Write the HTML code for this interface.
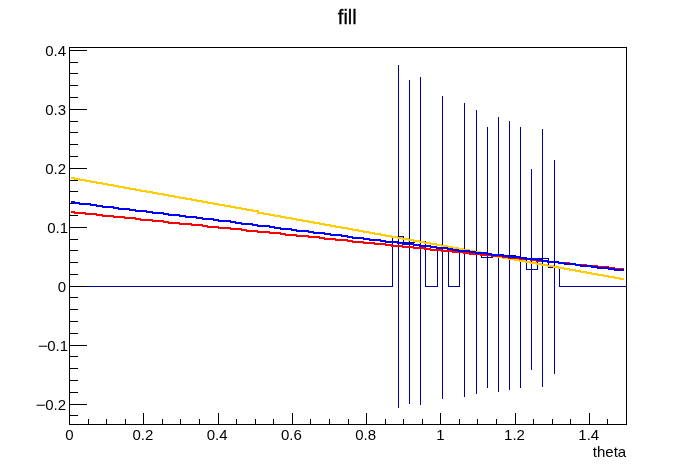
<!DOCTYPE html>
<html><head><meta charset="utf-8"><title>fill</title>
<style>
html,body{margin:0;padding:0;background:#fff;}
svg{display:block;}
text{font-family:"Liberation Sans",sans-serif;font-size:15px;fill:#000;}
</style></head><body>
<svg width="696" height="472" viewBox="0 0 696 472">
<rect x="0" y="0" width="696" height="472" fill="#fff"/>
<g shape-rendering="crispEdges">
<rect x="69" y="286" width="12" height="1" fill="#000099"/>
<rect x="80" y="286" width="12" height="1" fill="#000099"/>
<rect x="91" y="286" width="13" height="1" fill="#000099"/>
<rect x="103" y="286" width="12" height="1" fill="#000099"/>
<rect x="114" y="286" width="12" height="1" fill="#000099"/>
<rect x="125" y="286" width="12" height="1" fill="#000099"/>
<rect x="136" y="286" width="12" height="1" fill="#000099"/>
<rect x="147" y="286" width="12" height="1" fill="#000099"/>
<rect x="158" y="286" width="12" height="1" fill="#000099"/>
<rect x="169" y="286" width="12" height="1" fill="#000099"/>
<rect x="180" y="286" width="13" height="1" fill="#000099"/>
<rect x="192" y="286" width="12" height="1" fill="#000099"/>
<rect x="203" y="286" width="12" height="1" fill="#000099"/>
<rect x="214" y="286" width="12" height="1" fill="#000099"/>
<rect x="225" y="286" width="12" height="1" fill="#000099"/>
<rect x="236" y="286" width="12" height="1" fill="#000099"/>
<rect x="247" y="286" width="12" height="1" fill="#000099"/>
<rect x="258" y="286" width="13" height="1" fill="#000099"/>
<rect x="270" y="286" width="12" height="1" fill="#000099"/>
<rect x="281" y="286" width="12" height="1" fill="#000099"/>
<rect x="292" y="286" width="12" height="1" fill="#000099"/>
<rect x="303" y="286" width="12" height="1" fill="#000099"/>
<rect x="314" y="286" width="12" height="1" fill="#000099"/>
<rect x="325" y="286" width="12" height="1" fill="#000099"/>
<rect x="336" y="286" width="13" height="1" fill="#000099"/>
<rect x="348" y="286" width="12" height="1" fill="#000099"/>
<rect x="359" y="286" width="12" height="1" fill="#000099"/>
<rect x="370" y="286" width="12" height="1" fill="#000099"/>
<rect x="381" y="286" width="12" height="1" fill="#000099"/>
<rect x="392" y="236" width="1" height="51" fill="#000099"/>
<rect x="392" y="236" width="12" height="1" fill="#000099"/>
<rect x="403" y="236" width="1" height="7" fill="#000099"/>
<rect x="403" y="242" width="12" height="1" fill="#000099"/>
<rect x="414" y="241" width="1" height="2" fill="#000099"/>
<rect x="414" y="241" width="12" height="1" fill="#000099"/>
<rect x="425" y="241" width="1" height="46" fill="#000099"/>
<rect x="425" y="286" width="13" height="1" fill="#000099"/>
<rect x="437" y="247" width="1" height="40" fill="#000099"/>
<rect x="437" y="247" width="12" height="1" fill="#000099"/>
<rect x="448" y="247" width="1" height="40" fill="#000099"/>
<rect x="448" y="286" width="12" height="1" fill="#000099"/>
<rect x="459" y="250" width="1" height="37" fill="#000099"/>
<rect x="459" y="250" width="12" height="1" fill="#000099"/>
<rect x="470" y="250" width="1" height="3" fill="#000099"/>
<rect x="470" y="252" width="12" height="1" fill="#000099"/>
<rect x="481" y="252" width="1" height="6" fill="#000099"/>
<rect x="481" y="257" width="12" height="1" fill="#000099"/>
<rect x="492" y="254" width="1" height="4" fill="#000099"/>
<rect x="492" y="254" width="12" height="1" fill="#000099"/>
<rect x="503" y="254" width="1" height="2" fill="#000099"/>
<rect x="503" y="255" width="13" height="1" fill="#000099"/>
<rect x="515" y="255" width="1" height="3" fill="#000099"/>
<rect x="515" y="257" width="12" height="1" fill="#000099"/>
<rect x="526" y="257" width="1" height="13" fill="#000099"/>
<rect x="526" y="269" width="12" height="1" fill="#000099"/>
<rect x="537" y="258" width="1" height="12" fill="#000099"/>
<rect x="537" y="258" width="12" height="1" fill="#000099"/>
<rect x="548" y="258" width="1" height="10" fill="#000099"/>
<rect x="548" y="267" width="12" height="1" fill="#000099"/>
<rect x="559" y="267" width="1" height="20" fill="#000099"/>
<rect x="559" y="286" width="12" height="1" fill="#000099"/>
<rect x="570" y="286" width="12" height="1" fill="#000099"/>
<rect x="581" y="286" width="12" height="1" fill="#000099"/>
<rect x="592" y="286" width="13" height="1" fill="#000099"/>
<rect x="604" y="286" width="12" height="1" fill="#000099"/>
<rect x="615" y="286" width="12" height="1" fill="#000099"/>
<rect x="398" y="65" width="1" height="343" fill="#000099"/>
<rect x="409" y="80" width="1" height="324" fill="#000099"/>
<rect x="420" y="77" width="1" height="328" fill="#000099"/>
<rect x="442" y="96" width="1" height="303" fill="#000099"/>
<rect x="464" y="103" width="1" height="294" fill="#000099"/>
<rect x="476" y="110" width="1" height="284" fill="#000099"/>
<rect x="487" y="127" width="1" height="261" fill="#000099"/>
<rect x="498" y="117" width="1" height="275" fill="#000099"/>
<rect x="509" y="121" width="1" height="269" fill="#000099"/>
<rect x="520" y="127" width="1" height="261" fill="#000099"/>
<rect x="531" y="169" width="1" height="201" fill="#000099"/>
<rect x="542" y="129" width="1" height="258" fill="#000099"/>
<rect x="554" y="160" width="1" height="214" fill="#000099"/>
<rect x="69" y="47" width="558" height="1" fill="#000"/>
<rect x="69" y="424" width="558" height="1" fill="#000"/>
<rect x="69" y="47" width="1" height="378" fill="#000"/>
<rect x="626" y="47" width="1" height="378" fill="#000"/>
<rect x="69" y="413" width="1" height="11" fill="#000"/>
<rect x="88" y="419" width="1" height="5" fill="#000"/>
<rect x="106" y="419" width="1" height="5" fill="#000"/>
<rect x="125" y="419" width="1" height="5" fill="#000"/>
<rect x="143" y="413" width="1" height="11" fill="#000"/>
<rect x="162" y="419" width="1" height="5" fill="#000"/>
<rect x="180" y="419" width="1" height="5" fill="#000"/>
<rect x="199" y="419" width="1" height="5" fill="#000"/>
<rect x="218" y="413" width="1" height="11" fill="#000"/>
<rect x="236" y="419" width="1" height="5" fill="#000"/>
<rect x="255" y="419" width="1" height="5" fill="#000"/>
<rect x="273" y="419" width="1" height="5" fill="#000"/>
<rect x="292" y="413" width="1" height="11" fill="#000"/>
<rect x="310" y="419" width="1" height="5" fill="#000"/>
<rect x="329" y="419" width="1" height="5" fill="#000"/>
<rect x="348" y="419" width="1" height="5" fill="#000"/>
<rect x="366" y="413" width="1" height="11" fill="#000"/>
<rect x="385" y="419" width="1" height="5" fill="#000"/>
<rect x="403" y="419" width="1" height="5" fill="#000"/>
<rect x="422" y="419" width="1" height="5" fill="#000"/>
<rect x="440" y="413" width="1" height="11" fill="#000"/>
<rect x="459" y="419" width="1" height="5" fill="#000"/>
<rect x="477" y="419" width="1" height="5" fill="#000"/>
<rect x="496" y="419" width="1" height="5" fill="#000"/>
<rect x="515" y="413" width="1" height="11" fill="#000"/>
<rect x="533" y="419" width="1" height="5" fill="#000"/>
<rect x="552" y="419" width="1" height="5" fill="#000"/>
<rect x="570" y="419" width="1" height="5" fill="#000"/>
<rect x="589" y="413" width="1" height="11" fill="#000"/>
<rect x="607" y="419" width="1" height="5" fill="#000"/>
<rect x="70" y="415" width="8" height="1" fill="#000"/>
<rect x="70" y="404" width="17" height="1" fill="#000"/>
<rect x="70" y="392" width="8" height="1" fill="#000"/>
<rect x="70" y="380" width="8" height="1" fill="#000"/>
<rect x="70" y="368" width="8" height="1" fill="#000"/>
<rect x="70" y="356" width="8" height="1" fill="#000"/>
<rect x="70" y="345" width="17" height="1" fill="#000"/>
<rect x="70" y="333" width="8" height="1" fill="#000"/>
<rect x="70" y="321" width="8" height="1" fill="#000"/>
<rect x="70" y="309" width="8" height="1" fill="#000"/>
<rect x="70" y="297" width="8" height="1" fill="#000"/>
<rect x="70" y="286" width="17" height="1" fill="#000"/>
<rect x="70" y="274" width="8" height="1" fill="#000"/>
<rect x="70" y="262" width="8" height="1" fill="#000"/>
<rect x="70" y="250" width="8" height="1" fill="#000"/>
<rect x="70" y="239" width="8" height="1" fill="#000"/>
<rect x="70" y="227" width="17" height="1" fill="#000"/>
<rect x="70" y="215" width="8" height="1" fill="#000"/>
<rect x="70" y="203" width="8" height="1" fill="#000"/>
<rect x="70" y="191" width="8" height="1" fill="#000"/>
<rect x="70" y="180" width="8" height="1" fill="#000"/>
<rect x="70" y="168" width="17" height="1" fill="#000"/>
<rect x="70" y="156" width="8" height="1" fill="#000"/>
<rect x="70" y="144" width="8" height="1" fill="#000"/>
<rect x="70" y="132" width="8" height="1" fill="#000"/>
<rect x="70" y="121" width="8" height="1" fill="#000"/>
<rect x="70" y="109" width="17" height="1" fill="#000"/>
<rect x="70" y="97" width="8" height="1" fill="#000"/>
<rect x="70" y="85" width="8" height="1" fill="#000"/>
<rect x="70" y="73" width="8" height="1" fill="#000"/>
<rect x="70" y="62" width="8" height="1" fill="#000"/>
<rect x="70" y="50" width="17" height="1" fill="#000"/>
<rect x="71" y="177" width="4" height="2" fill="#ffcc00"/>
<rect x="74" y="178" width="6" height="2" fill="#ffcc00"/>
<rect x="79" y="179" width="7" height="2" fill="#ffcc00"/>
<rect x="85" y="180" width="6" height="2" fill="#ffcc00"/>
<rect x="90" y="181" width="7" height="2" fill="#ffcc00"/>
<rect x="96" y="182" width="7" height="2" fill="#ffcc00"/>
<rect x="102" y="183" width="6" height="2" fill="#ffcc00"/>
<rect x="107" y="184" width="7" height="2" fill="#ffcc00"/>
<rect x="113" y="185" width="6" height="2" fill="#ffcc00"/>
<rect x="118" y="186" width="7" height="2" fill="#ffcc00"/>
<rect x="124" y="187" width="6" height="2" fill="#ffcc00"/>
<rect x="129" y="188" width="7" height="2" fill="#ffcc00"/>
<rect x="135" y="189" width="6" height="2" fill="#ffcc00"/>
<rect x="140" y="190" width="7" height="2" fill="#ffcc00"/>
<rect x="146" y="191" width="7" height="2" fill="#ffcc00"/>
<rect x="152" y="192" width="6" height="2" fill="#ffcc00"/>
<rect x="157" y="193" width="7" height="2" fill="#ffcc00"/>
<rect x="163" y="194" width="6" height="2" fill="#ffcc00"/>
<rect x="168" y="195" width="7" height="2" fill="#ffcc00"/>
<rect x="174" y="196" width="6" height="2" fill="#ffcc00"/>
<rect x="179" y="197" width="7" height="2" fill="#ffcc00"/>
<rect x="185" y="198" width="7" height="2" fill="#ffcc00"/>
<rect x="191" y="199" width="6" height="2" fill="#ffcc00"/>
<rect x="196" y="200" width="7" height="2" fill="#ffcc00"/>
<rect x="202" y="201" width="6" height="2" fill="#ffcc00"/>
<rect x="207" y="202" width="7" height="2" fill="#ffcc00"/>
<rect x="213" y="203" width="6" height="2" fill="#ffcc00"/>
<rect x="218" y="204" width="7" height="2" fill="#ffcc00"/>
<rect x="224" y="205" width="7" height="2" fill="#ffcc00"/>
<rect x="230" y="206" width="6" height="2" fill="#ffcc00"/>
<rect x="235" y="207" width="7" height="2" fill="#ffcc00"/>
<rect x="241" y="208" width="6" height="2" fill="#ffcc00"/>
<rect x="246" y="209" width="7" height="2" fill="#ffcc00"/>
<rect x="252" y="210" width="6" height="2" fill="#ffcc00"/>
<rect x="257" y="210" width="2" height="4" fill="#ffcc00"/>
<rect x="257" y="212" width="7" height="2" fill="#ffcc00"/>
<rect x="263" y="213" width="7" height="2" fill="#ffcc00"/>
<rect x="269" y="214" width="6" height="2" fill="#ffcc00"/>
<rect x="274" y="215" width="7" height="2" fill="#ffcc00"/>
<rect x="280" y="216" width="6" height="2" fill="#ffcc00"/>
<rect x="285" y="217" width="7" height="2" fill="#ffcc00"/>
<rect x="291" y="218" width="6" height="2" fill="#ffcc00"/>
<rect x="296" y="219" width="7" height="2" fill="#ffcc00"/>
<rect x="302" y="220" width="7" height="2" fill="#ffcc00"/>
<rect x="308" y="221" width="6" height="2" fill="#ffcc00"/>
<rect x="313" y="222" width="7" height="2" fill="#ffcc00"/>
<rect x="319" y="223" width="6" height="2" fill="#ffcc00"/>
<rect x="324" y="224" width="7" height="2" fill="#ffcc00"/>
<rect x="330" y="225" width="6" height="2" fill="#ffcc00"/>
<rect x="335" y="226" width="7" height="2" fill="#ffcc00"/>
<rect x="341" y="227" width="7" height="2" fill="#ffcc00"/>
<rect x="347" y="228" width="6" height="2" fill="#ffcc00"/>
<rect x="352" y="229" width="7" height="2" fill="#ffcc00"/>
<rect x="358" y="230" width="6" height="2" fill="#ffcc00"/>
<rect x="363" y="231" width="7" height="2" fill="#ffcc00"/>
<rect x="369" y="232" width="6" height="2" fill="#ffcc00"/>
<rect x="374" y="233" width="7" height="2" fill="#ffcc00"/>
<rect x="380" y="234" width="6" height="2" fill="#ffcc00"/>
<rect x="385" y="235" width="7" height="2" fill="#ffcc00"/>
<rect x="391" y="236" width="7" height="2" fill="#ffcc00"/>
<rect x="397" y="237" width="6" height="2" fill="#ffcc00"/>
<rect x="402" y="238" width="7" height="2" fill="#ffcc00"/>
<rect x="408" y="239" width="6" height="2" fill="#ffcc00"/>
<rect x="413" y="240" width="7" height="2" fill="#ffcc00"/>
<rect x="419" y="241" width="6" height="2" fill="#ffcc00"/>
<rect x="424" y="242" width="7" height="2" fill="#ffcc00"/>
<rect x="430" y="243" width="7" height="2" fill="#ffcc00"/>
<rect x="436" y="244" width="6" height="2" fill="#ffcc00"/>
<rect x="441" y="245" width="7" height="2" fill="#ffcc00"/>
<rect x="447" y="246" width="6" height="2" fill="#ffcc00"/>
<rect x="452" y="247" width="7" height="2" fill="#ffcc00"/>
<rect x="458" y="248" width="6" height="2" fill="#ffcc00"/>
<rect x="463" y="249" width="7" height="2" fill="#ffcc00"/>
<rect x="469" y="250" width="7" height="2" fill="#ffcc00"/>
<rect x="475" y="251" width="6" height="2" fill="#ffcc00"/>
<rect x="480" y="252" width="7" height="2" fill="#ffcc00"/>
<rect x="486" y="253" width="6" height="2" fill="#ffcc00"/>
<rect x="491" y="254" width="7" height="2" fill="#ffcc00"/>
<rect x="497" y="254" width="2" height="4" fill="#ffcc00"/>
<rect x="497" y="256" width="6" height="2" fill="#ffcc00"/>
<rect x="502" y="257" width="7" height="2" fill="#ffcc00"/>
<rect x="508" y="258" width="7" height="2" fill="#ffcc00"/>
<rect x="514" y="259" width="6" height="2" fill="#ffcc00"/>
<rect x="519" y="260" width="7" height="2" fill="#ffcc00"/>
<rect x="525" y="261" width="6" height="2" fill="#ffcc00"/>
<rect x="530" y="262" width="7" height="2" fill="#ffcc00"/>
<rect x="536" y="263" width="6" height="2" fill="#ffcc00"/>
<rect x="541" y="264" width="7" height="2" fill="#ffcc00"/>
<rect x="547" y="265" width="7" height="2" fill="#ffcc00"/>
<rect x="553" y="266" width="6" height="2" fill="#ffcc00"/>
<rect x="558" y="267" width="7" height="2" fill="#ffcc00"/>
<rect x="564" y="268" width="6" height="2" fill="#ffcc00"/>
<rect x="569" y="269" width="7" height="2" fill="#ffcc00"/>
<rect x="575" y="270" width="6" height="2" fill="#ffcc00"/>
<rect x="580" y="271" width="7" height="2" fill="#ffcc00"/>
<rect x="586" y="272" width="6" height="2" fill="#ffcc00"/>
<rect x="591" y="273" width="7" height="2" fill="#ffcc00"/>
<rect x="597" y="274" width="7" height="2" fill="#ffcc00"/>
<rect x="603" y="275" width="6" height="2" fill="#ffcc00"/>
<rect x="608" y="276" width="7" height="2" fill="#ffcc00"/>
<rect x="614" y="277" width="6" height="2" fill="#ffcc00"/>
<rect x="619" y="278" width="5" height="2" fill="#ffcc00"/>
<rect x="71" y="211" width="4" height="2" fill="#ff0000"/>
<rect x="74" y="212" width="12" height="2" fill="#ff0000"/>
<rect x="85" y="213" width="12" height="2" fill="#ff0000"/>
<rect x="96" y="214" width="7" height="2" fill="#ff0000"/>
<rect x="102" y="215" width="12" height="2" fill="#ff0000"/>
<rect x="113" y="216" width="12" height="2" fill="#ff0000"/>
<rect x="124" y="217" width="12" height="2" fill="#ff0000"/>
<rect x="135" y="218" width="6" height="2" fill="#ff0000"/>
<rect x="140" y="219" width="13" height="2" fill="#ff0000"/>
<rect x="152" y="220" width="12" height="2" fill="#ff0000"/>
<rect x="163" y="221" width="6" height="2" fill="#ff0000"/>
<rect x="168" y="222" width="12" height="2" fill="#ff0000"/>
<rect x="179" y="223" width="13" height="2" fill="#ff0000"/>
<rect x="191" y="224" width="12" height="2" fill="#ff0000"/>
<rect x="202" y="225" width="6" height="2" fill="#ff0000"/>
<rect x="207" y="226" width="12" height="2" fill="#ff0000"/>
<rect x="218" y="227" width="13" height="2" fill="#ff0000"/>
<rect x="230" y="228" width="12" height="2" fill="#ff0000"/>
<rect x="241" y="229" width="6" height="2" fill="#ff0000"/>
<rect x="246" y="230" width="12" height="2" fill="#ff0000"/>
<rect x="257" y="231" width="13" height="2" fill="#ff0000"/>
<rect x="269" y="232" width="12" height="2" fill="#ff0000"/>
<rect x="280" y="233" width="6" height="2" fill="#ff0000"/>
<rect x="285" y="234" width="12" height="2" fill="#ff0000"/>
<rect x="296" y="235" width="13" height="2" fill="#ff0000"/>
<rect x="308" y="236" width="12" height="2" fill="#ff0000"/>
<rect x="319" y="237" width="6" height="2" fill="#ff0000"/>
<rect x="324" y="238" width="12" height="2" fill="#ff0000"/>
<rect x="335" y="239" width="13" height="2" fill="#ff0000"/>
<rect x="347" y="240" width="6" height="2" fill="#ff0000"/>
<rect x="352" y="241" width="12" height="2" fill="#ff0000"/>
<rect x="363" y="242" width="12" height="2" fill="#ff0000"/>
<rect x="374" y="243" width="12" height="2" fill="#ff0000"/>
<rect x="385" y="244" width="7" height="2" fill="#ff0000"/>
<rect x="391" y="245" width="12" height="2" fill="#ff0000"/>
<rect x="402" y="246" width="12" height="2" fill="#ff0000"/>
<rect x="413" y="247" width="12" height="2" fill="#ff0000"/>
<rect x="424" y="248" width="7" height="2" fill="#ff0000"/>
<rect x="430" y="249" width="12" height="2" fill="#ff0000"/>
<rect x="441" y="250" width="12" height="2" fill="#ff0000"/>
<rect x="452" y="251" width="12" height="2" fill="#ff0000"/>
<rect x="463" y="252" width="7" height="2" fill="#ff0000"/>
<rect x="469" y="253" width="12" height="2" fill="#ff0000"/>
<rect x="480" y="254" width="12" height="2" fill="#ff0000"/>
<rect x="491" y="255" width="12" height="2" fill="#ff0000"/>
<rect x="502" y="256" width="7" height="2" fill="#ff0000"/>
<rect x="508" y="257" width="12" height="2" fill="#ff0000"/>
<rect x="519" y="258" width="12" height="2" fill="#ff0000"/>
<rect x="530" y="259" width="7" height="2" fill="#ff0000"/>
<rect x="536" y="260" width="12" height="2" fill="#ff0000"/>
<rect x="547" y="261" width="12" height="2" fill="#ff0000"/>
<rect x="558" y="262" width="12" height="2" fill="#ff0000"/>
<rect x="569" y="263" width="7" height="2" fill="#ff0000"/>
<rect x="575" y="264" width="12" height="2" fill="#ff0000"/>
<rect x="586" y="265" width="12" height="2" fill="#ff0000"/>
<rect x="597" y="266" width="12" height="2" fill="#ff0000"/>
<rect x="608" y="267" width="7" height="2" fill="#ff0000"/>
<rect x="614" y="268" width="10" height="2" fill="#ff0000"/>
<rect x="71" y="201" width="4" height="2" fill="#0000ff"/>
<rect x="74" y="202" width="6" height="2" fill="#0000ff"/>
<rect x="79" y="203" width="12" height="2" fill="#0000ff"/>
<rect x="90" y="204" width="7" height="2" fill="#0000ff"/>
<rect x="96" y="205" width="7" height="2" fill="#0000ff"/>
<rect x="102" y="206" width="12" height="2" fill="#0000ff"/>
<rect x="113" y="207" width="6" height="2" fill="#0000ff"/>
<rect x="118" y="208" width="12" height="2" fill="#0000ff"/>
<rect x="129" y="209" width="7" height="2" fill="#0000ff"/>
<rect x="135" y="210" width="12" height="2" fill="#0000ff"/>
<rect x="146" y="211" width="7" height="2" fill="#0000ff"/>
<rect x="152" y="212" width="12" height="2" fill="#0000ff"/>
<rect x="163" y="213" width="6" height="2" fill="#0000ff"/>
<rect x="168" y="214" width="12" height="2" fill="#0000ff"/>
<rect x="179" y="215" width="7" height="2" fill="#0000ff"/>
<rect x="185" y="216" width="12" height="2" fill="#0000ff"/>
<rect x="196" y="217" width="7" height="2" fill="#0000ff"/>
<rect x="202" y="218" width="12" height="2" fill="#0000ff"/>
<rect x="213" y="219" width="6" height="2" fill="#0000ff"/>
<rect x="218" y="220" width="13" height="2" fill="#0000ff"/>
<rect x="230" y="221" width="6" height="2" fill="#0000ff"/>
<rect x="235" y="222" width="7" height="2" fill="#0000ff"/>
<rect x="241" y="223" width="12" height="2" fill="#0000ff"/>
<rect x="252" y="224" width="6" height="2" fill="#0000ff"/>
<rect x="257" y="225" width="13" height="2" fill="#0000ff"/>
<rect x="269" y="226" width="6" height="2" fill="#0000ff"/>
<rect x="274" y="227" width="7" height="2" fill="#0000ff"/>
<rect x="280" y="228" width="12" height="2" fill="#0000ff"/>
<rect x="291" y="229" width="6" height="2" fill="#0000ff"/>
<rect x="296" y="230" width="13" height="2" fill="#0000ff"/>
<rect x="308" y="231" width="6" height="2" fill="#0000ff"/>
<rect x="313" y="232" width="12" height="2" fill="#0000ff"/>
<rect x="324" y="233" width="7" height="2" fill="#0000ff"/>
<rect x="330" y="234" width="12" height="2" fill="#0000ff"/>
<rect x="341" y="235" width="7" height="2" fill="#0000ff"/>
<rect x="347" y="236" width="6" height="2" fill="#0000ff"/>
<rect x="352" y="237" width="12" height="2" fill="#0000ff"/>
<rect x="363" y="238" width="7" height="2" fill="#0000ff"/>
<rect x="369" y="239" width="12" height="2" fill="#0000ff"/>
<rect x="380" y="240" width="6" height="2" fill="#0000ff"/>
<rect x="385" y="241" width="13" height="2" fill="#0000ff"/>
<rect x="397" y="242" width="6" height="2" fill="#0000ff"/>
<rect x="402" y="243" width="12" height="2" fill="#0000ff"/>
<rect x="413" y="244" width="7" height="2" fill="#0000ff"/>
<rect x="419" y="245" width="12" height="2" fill="#0000ff"/>
<rect x="430" y="246" width="7" height="2" fill="#0000ff"/>
<rect x="436" y="247" width="12" height="2" fill="#0000ff"/>
<rect x="447" y="248" width="6" height="2" fill="#0000ff"/>
<rect x="452" y="249" width="7" height="2" fill="#0000ff"/>
<rect x="458" y="250" width="12" height="2" fill="#0000ff"/>
<rect x="469" y="251" width="7" height="2" fill="#0000ff"/>
<rect x="475" y="252" width="12" height="2" fill="#0000ff"/>
<rect x="486" y="253" width="6" height="2" fill="#0000ff"/>
<rect x="491" y="254" width="12" height="2" fill="#0000ff"/>
<rect x="502" y="255" width="7" height="2" fill="#0000ff"/>
<rect x="508" y="256" width="12" height="2" fill="#0000ff"/>
<rect x="519" y="257" width="7" height="2" fill="#0000ff"/>
<rect x="525" y="258" width="12" height="2" fill="#0000ff"/>
<rect x="536" y="259" width="6" height="2" fill="#0000ff"/>
<rect x="541" y="260" width="7" height="2" fill="#0000ff"/>
<rect x="547" y="261" width="12" height="2" fill="#0000ff"/>
<rect x="558" y="262" width="7" height="2" fill="#0000ff"/>
<rect x="564" y="263" width="12" height="2" fill="#0000ff"/>
<rect x="575" y="264" width="6" height="2" fill="#0000ff"/>
<rect x="580" y="265" width="12" height="2" fill="#0000ff"/>
<rect x="591" y="266" width="7" height="2" fill="#0000ff"/>
<rect x="597" y="267" width="12" height="2" fill="#0000ff"/>
<rect x="608" y="268" width="7" height="2" fill="#0000ff"/>
<rect x="614" y="269" width="10" height="2" fill="#0000ff"/>
</g>
<g>
<text x="69.30" y="440" text-anchor="middle">0</text>
<text x="142.84" y="440" text-anchor="middle">0.2</text>
<text x="217.08" y="440" text-anchor="middle">0.4</text>
<text x="291.32" y="440" text-anchor="middle">0.6</text>
<text x="365.56" y="440" text-anchor="middle">0.8</text>
<text x="440.50" y="440" text-anchor="middle">1</text>
<text x="514.54" y="440" text-anchor="middle">1.2</text>
<text x="588.78" y="440" text-anchor="middle">1.4</text>
<text x="66.0" y="409.90" text-anchor="end">0.2</text>
<text x="45.70" y="409.90" text-anchor="end" textLength="10" lengthAdjust="spacingAndGlyphs">−</text>
<text x="68.0" y="350.90" text-anchor="end">0.1</text>
<text x="48.10" y="350.90" text-anchor="end" textLength="10" lengthAdjust="spacingAndGlyphs">−</text>
<text x="66.0" y="291.90" text-anchor="end">0</text>
<text x="68.0" y="232.90" text-anchor="end">0.1</text>
<text x="66.0" y="173.90" text-anchor="end">0.2</text>
<text x="66.0" y="114.90" text-anchor="end">0.3</text>
<text x="66.0" y="55.90" text-anchor="end">0.4</text>
<text x="626.2" y="457.1" text-anchor="end">theta</text>
<text x="347.3" y="23.7" text-anchor="middle" style="font-size:20px;stroke:#000;stroke-width:0.3px">fill</text>
</g>
</svg>
</body></html>
